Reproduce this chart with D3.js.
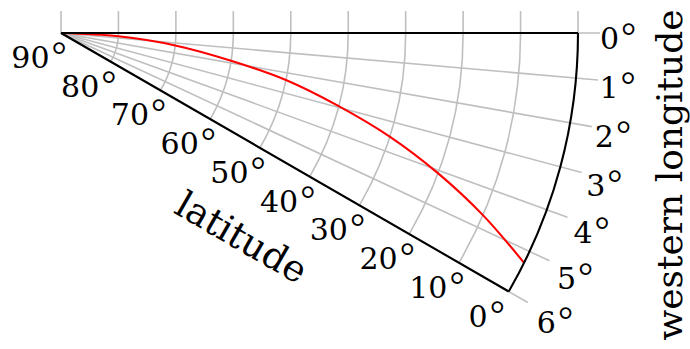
<!DOCTYPE html>
<html>
<head>
<meta charset="utf-8">
<script src="https://cdn.jsdelivr.net/npm/d3@7"></script>
<style>
  html, body { margin: 0; padding: 0; background: #fff; }
  svg text { font-family: "DejaVu Serif", "Liberation Serif", serif; fill: #000; }
</style>
</head>
<body>
<div id="chart"></div>
<script>
// tick values
const latTicks = [90, 80, 70, 60, 50, 40, 30, 20, 10, 0];
const lonTicks = [0, 1, 2, 3, 4, 5, 6];

// red curve (latitude, western longitude)
const curveLat = [90, 80, 70, 60, 50, 40, 30, 20, 10, 0];
const curveLon = [0, 0.66, 1.24, 1.85, 2.36, 2.95, 3.5, 4.08, 4.67, 5.28];

const xLabel = "western longitude";
const yLabel = "latitude";

// chart settings
const width = 690, height = 349;
const cx = 61, cy = 33;     // pole
const R = 517;              // radius of the equator
const tickLen = 22;

const svg = d3.select("#chart")
    .append("svg")
    .attr("width", width)
    .attr("height", height);

svg.append("rect").attr("width", width).attr("height", height).attr("fill", "#fff");

const g = svg.append("g").attr("transform", `translate(${cx},${cy})`);

// scales: latitude -> radius, longitude -> screen angle (clockwise from east)
const r = d3.scaleLinear().domain([90, 0]).range([0, R]);
const a = d3.scaleLinear().domain([0, 6]).range([0, Math.PI / 6]);
const pt = (lon, rad) => [rad * Math.cos(a(lon)), rad * Math.sin(a(lon))];

const grey = "#bfbfbf";
const gw = 1.6;

// radial ticks on top
g.selectAll(".rtick")
    .data(latTicks)
    .enter().append("line")
    .attr("x1", d => r(d)).attr("x2", d => r(d))
    .attr("y1", -tickLen).attr("y2", 0)
    .attr("stroke", grey).attr("stroke-width", gw);

// grid arcs
g.selectAll(".garc")
    .data(latTicks.filter(d => d !== 90 && d !== 0))
    .enter().append("path")
    .attr("d", d => { const p = d3.path(); p.arc(0, 0, r(d), a(0), a(6)); return p.toString(); })
    .attr("fill", "none").attr("stroke", grey).attr("stroke-width", gw);

// grid rays + ticks beyond the rim
g.selectAll(".gray")
    .data(lonTicks)
    .enter().append("line")
    .attr("x1", 0).attr("y1", 0)
    .attr("x2", d => pt(d, R + tickLen)[0])
    .attr("y2", d => pt(d, R + tickLen)[1])
    .attr("stroke", grey).attr("stroke-width", gw);

// red curve
const curve = curveLat.map((d, i) => ({lat: d, lon: curveLon[i]}));
const line = d3.lineRadial()
    .angle(d => Math.PI / 2 + a(d.lon))
    .radius(d => r(d.lat))
    .curve(d3.curveCatmullRom.alpha(0.5));

g.append("path")
    .datum(curve)
    .attr("d", line)
    .attr("fill", "none").attr("stroke", "#ff0000").attr("stroke-width", 2.1);

// axis lines
const axisStyle = sel => sel.attr("fill", "none").attr("stroke", "#000").attr("stroke-width", 2.1);
[0, 6].forEach(lon => {
    g.append("line")
        .attr("x1", 0).attr("y1", 0)
        .attr("x2", pt(lon, R)[0]).attr("y2", pt(lon, R)[1])
        .call(axisStyle);
});
const rim = d3.path(); rim.arc(0, 0, r(0), a(0), a(6));
g.append("path").attr("d", rim.toString()).call(axisStyle);

// number + thin degree ring
const degText = (sel, v) => {
    sel.text(v);
    sel.append("tspan")
        .attr("font-family", "Liberation Serif")
        .attr("font-size", 38)
        .attr("dx", 2)
        .text("°");
};

// latitude tick labels along the 6° ray
g.selectAll(".latlab")
    .data(latTicks)
    .enter().append("text")
    .attr("x", d => pt(6, r(d))[0] - 22)
    .attr("y", d => pt(6, r(d))[1] + 35)
    .attr("text-anchor", "middle")
    .attr("font-size", 30)
    .each(function(d) { degText(d3.select(this), d); });

// longitude tick labels at the rim
g.selectAll(".lonlab")
    .data(lonTicks)
    .enter().append("text")
    .attr("x", d => pt(d, R + tickLen)[0] + 9 * d / 6)
    .attr("y", d => pt(d, R + tickLen)[1] + 15.5 + 15 * d / 6)
    .attr("text-anchor", "start")
    .attr("font-size", 30)
    .each(function(d) { degText(d3.select(this), d); });

// axis labels
const mid = pt(6, R / 2);
const ang = a(6) * 180 / Math.PI;
g.append("text")
    .attr("transform", `translate(${mid[0] - 99.5 * Math.sin(a(6))},${mid[1] + 99.5 * Math.cos(a(6))}) rotate(${ang})`)
    .attr("text-anchor", "middle")
    .attr("font-size", 37)
    .text(yLabel);

svg.append("text")
    .attr("transform", `translate(682,175) rotate(-90)`)
    .attr("text-anchor", "middle")
    .attr("font-size", 36)
    .text(xLabel);
</script>
</body>
</html>
